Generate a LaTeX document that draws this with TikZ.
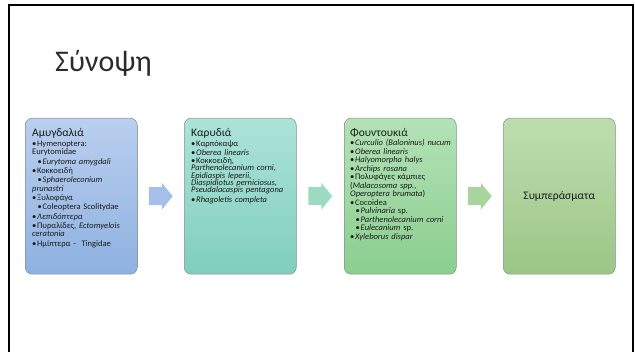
\documentclass[tikz,border=0pt]{standalone}
\usepackage{fontspec}
\setmainfont{Carlito}
\usetikzlibrary{calc}
\definecolor{txtc}{HTML}{1A1A1A}
\definecolor{ttlc}{HTML}{2B2B2B}
\definecolor{b1t}{HTML}{BACFEF}\definecolor{b1b}{HTML}{8DB1E0}
\definecolor{b2t}{HTML}{ACE3D9}\definecolor{b2b}{HTML}{80CEBD}
\definecolor{b3t}{HTML}{B3E2B7}\definecolor{b3b}{HTML}{8BCE8F}
\definecolor{b4t}{HTML}{BEDDAF}\definecolor{b4b}{HTML}{9BC686}
\definecolor{a1c}{HTML}{A6BFEA}\definecolor{a2c}{HTML}{9CDBC2}\definecolor{a3c}{HTML}{A9D49D}
\newcommand\itm[1]{\par\noindent\hangindent=5pt\hangafter=1\makebox[5pt][l]{•}#1}
\newcommand\sitm[1]{\par\noindent\hangindent=10.5pt\hangafter=1\hspace*{5.5pt}\makebox[5pt][l]{•}#1}
\newcommand\hd[1]{{\fontsize{11.5}{13}\selectfont #1\par}\vspace{0.8pt}}
\begin{document}
\begin{tikzpicture}[x=1pt,y=-1pt,
  box/.style={draw=black!45, line width=0.5pt, rounded corners=7pt, minimum width=112pt, minimum height=156pt, anchor=north west, inner sep=0pt},
  txt/.style={anchor=north west, inner sep=0pt, text width=108pt, align=left, text=txtc}]
\useasboundingbox (0,0) rectangle (635,352);
\draw[line width=2pt] (9,352) -- (9,5) -- (633,5) -- (633,352);
\node[anchor=base west, inner sep=0pt, text=ttlc, font=\fontsize{30}{36}\selectfont] (title) at (55,72) {Σύνοψη};
\node[box, top color=b1t, bottom color=b1b] (b1) at (25,118) {};
\node[box, top color=b2t, bottom color=b2b] (b2) at (184,118) {};
\node[box, top color=b3t, bottom color=b3b] (b3) at (344,118) {};
\node[box, top color=b4t, bottom color=b4b] (b4) at (503,118) {};
\node[txt, font=\fontsize{8.5}{8.5}\selectfont] (t1) at ([shift={(7,10)}]b1.north west) {\hd{Αμυγδαλιά}\parskip=0.8pt
\itm{Hymenoptera:\\Eurytomidae}
\sitm{\textit{Eurytoma amygdali}}
\itm{Κοκκοειδή}
\sitm{\textit{Sphaeroleconium\\prunastri}}
\itm{Ξυλοφάγα}
\sitm{Coleoptera Scolitydae}
\itm{\textit{Λεπιδόπτερα}}
\itm{Πυραλίδες, \textit{Ectomyelois\\ceratonia}}
\itm{Ημίπτερα -\ \ Tingidae}\par};
\node[txt, font=\fontsize{8.5}{7.3}\selectfont] (t2) at ([shift={(7,10)}]b2.north west) {\hd{Καρυδιά}\parskip=1pt
\itm{Καρπόκαψα}
\itm{\textit{Oberea linearis}}
\itm{Κοκκοειδή,\\\textit{Parthenolecanium corni,\\Epidiaspis leperii,\\Diaspidiotus perniciosus,\\Pseudalacaspis pentagona}}
\itm{\textit{Rhagoletis completa}}\par};
\node[txt, font=\fontsize{8.5}{7.5}\selectfont] (t3) at ([shift={(6,10)}]b3.north west) {\hd{Φουντουκιά}\parskip=1pt
\itm{\textit{Curculio (Baloninus) nucum}}
\itm{\textit{Oberea linearis}}
\itm{\textit{Halyomorpha halys}}
\itm{\textit{Archips rosana}}
\itm{Πολυφάγες κάμπιες\\(\textit{Malacosoma spp.,\\Operoptera brumata})}
\itm{Cocoidea}
\sitm{\textit{Pulvinaria} sp.}
\sitm{\textit{Parthenolecanium corni}}
\sitm{\textit{Eulecanium} sp.}
\itm{\textit{Xyleborus dispar}}\par};
\node[anchor=center, inner sep=0pt, text=txtc, font=\fontsize{11.5}{13}\selectfont] (t4) at (b4.center) {Συμπεράσματα};
\coordinate (m1) at ($(b1.east)!0.5!(b2.west)$);
\coordinate (m2) at ($(b2.east)!0.5!(b3.west)$);
\coordinate (m3) at ($(b3.east)!0.5!(b4.west)$);
\foreach \m/\c in {m1/a1c, m2/a2c, m3/a3c}{
  \fill[\c] ([shift={(-12,-9)}]\m) -- ([shift={(1,-9)}]\m) -- ([shift={(1,-13.5)}]\m) -- ([shift={(12,0)}]\m) -- ([shift={(1,13.5)}]\m) -- ([shift={(1,9)}]\m) -- ([shift={(-12,9)}]\m) -- cycle;
}
\end{tikzpicture}
\end{document}
